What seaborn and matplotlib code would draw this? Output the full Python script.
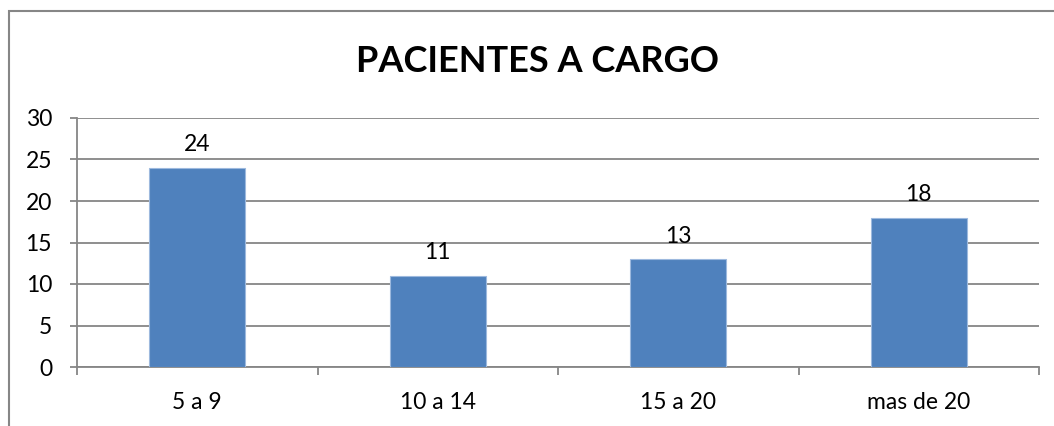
import matplotlib
matplotlib.use('Agg')
import matplotlib.pyplot as plt
import matplotlib.patches as mpatches
from matplotlib.ticker import FixedLocator
import seaborn as sns
import pandas as pd

# datos del grafico
categorias = ['5 a 9', '10 a 14', '15 a 20', 'mas de 20']
pacientes = [24, 11, 13, 18]
titulo = 'PACIENTES A CARGO'

sns.set_style('white')
plt.rcParams['font.family'] = ['Lato', 'DejaVu Sans']
plt.rcParams['text.color'] = 'black'
plt.rcParams['xtick.color'] = 'black'
plt.rcParams['ytick.color'] = 'black'

grey = '#868686'
df = pd.DataFrame({'rango': categorias, 'pacientes': pacientes})

fig = plt.figure(figsize=(10.54, 4.26), dpi=100)
ax = fig.add_axes([77 / 1054, 59 / 426, (1039 - 77) / 1054, (367 - 118) / 426])

sns.barplot(data=df, x='rango', y='pacientes', color='#4F81BD', width=0.4,
            saturation=1, edgecolor='#9DB9DE', linewidth=0.8, ax=ax, zorder=3)

# etiquetas sobre las barras
for cont in ax.containers:
    ax.bar_label(cont, padding=9, fontsize=16.5)

ax.set_xlim(-0.5, len(categorias) - 0.5)
ax.set_ylim(0, 30)
ax.set_yticks(range(0, 31, 5))
ax.yaxis.grid(True, color=grey, linewidth=1.3, zorder=0)
ax.set_xlabel('')
ax.set_ylabel('')

for s in ['top', 'right']:
    ax.spines[s].set_visible(False)
for s in ['left', 'bottom']:
    ax.spines[s].set_color(grey)
    ax.spines[s].set_linewidth(1.3)

ax.tick_params(axis='y', length=5, width=1.3, color=grey, pad=13, labelsize=16.5, left=True)
ax.tick_params(axis='x', which='major', length=0, pad=18, labelsize=16.5)
ax.xaxis.set_minor_locator(FixedLocator([i - 0.5 for i in range(len(categorias) + 1)]))
ax.tick_params(axis='x', which='minor', length=6, width=1.3, color=grey, bottom=True)

fig.text(538 / 1054, 1 - 61 / 426, titulo, ha='center', va='center',
         fontsize=26, fontweight='bold')

# marco del grafico (recortado)
marco = mpatches.Rectangle((9 / 1054, -0.2), 1.2, 1.2 - 11 / 426,
                           transform=fig.transFigure, fill=False,
                           edgecolor=grey, linewidth=1.5)
fig.patches.append(marco)

fig.savefig('out.png', dpi=100)
